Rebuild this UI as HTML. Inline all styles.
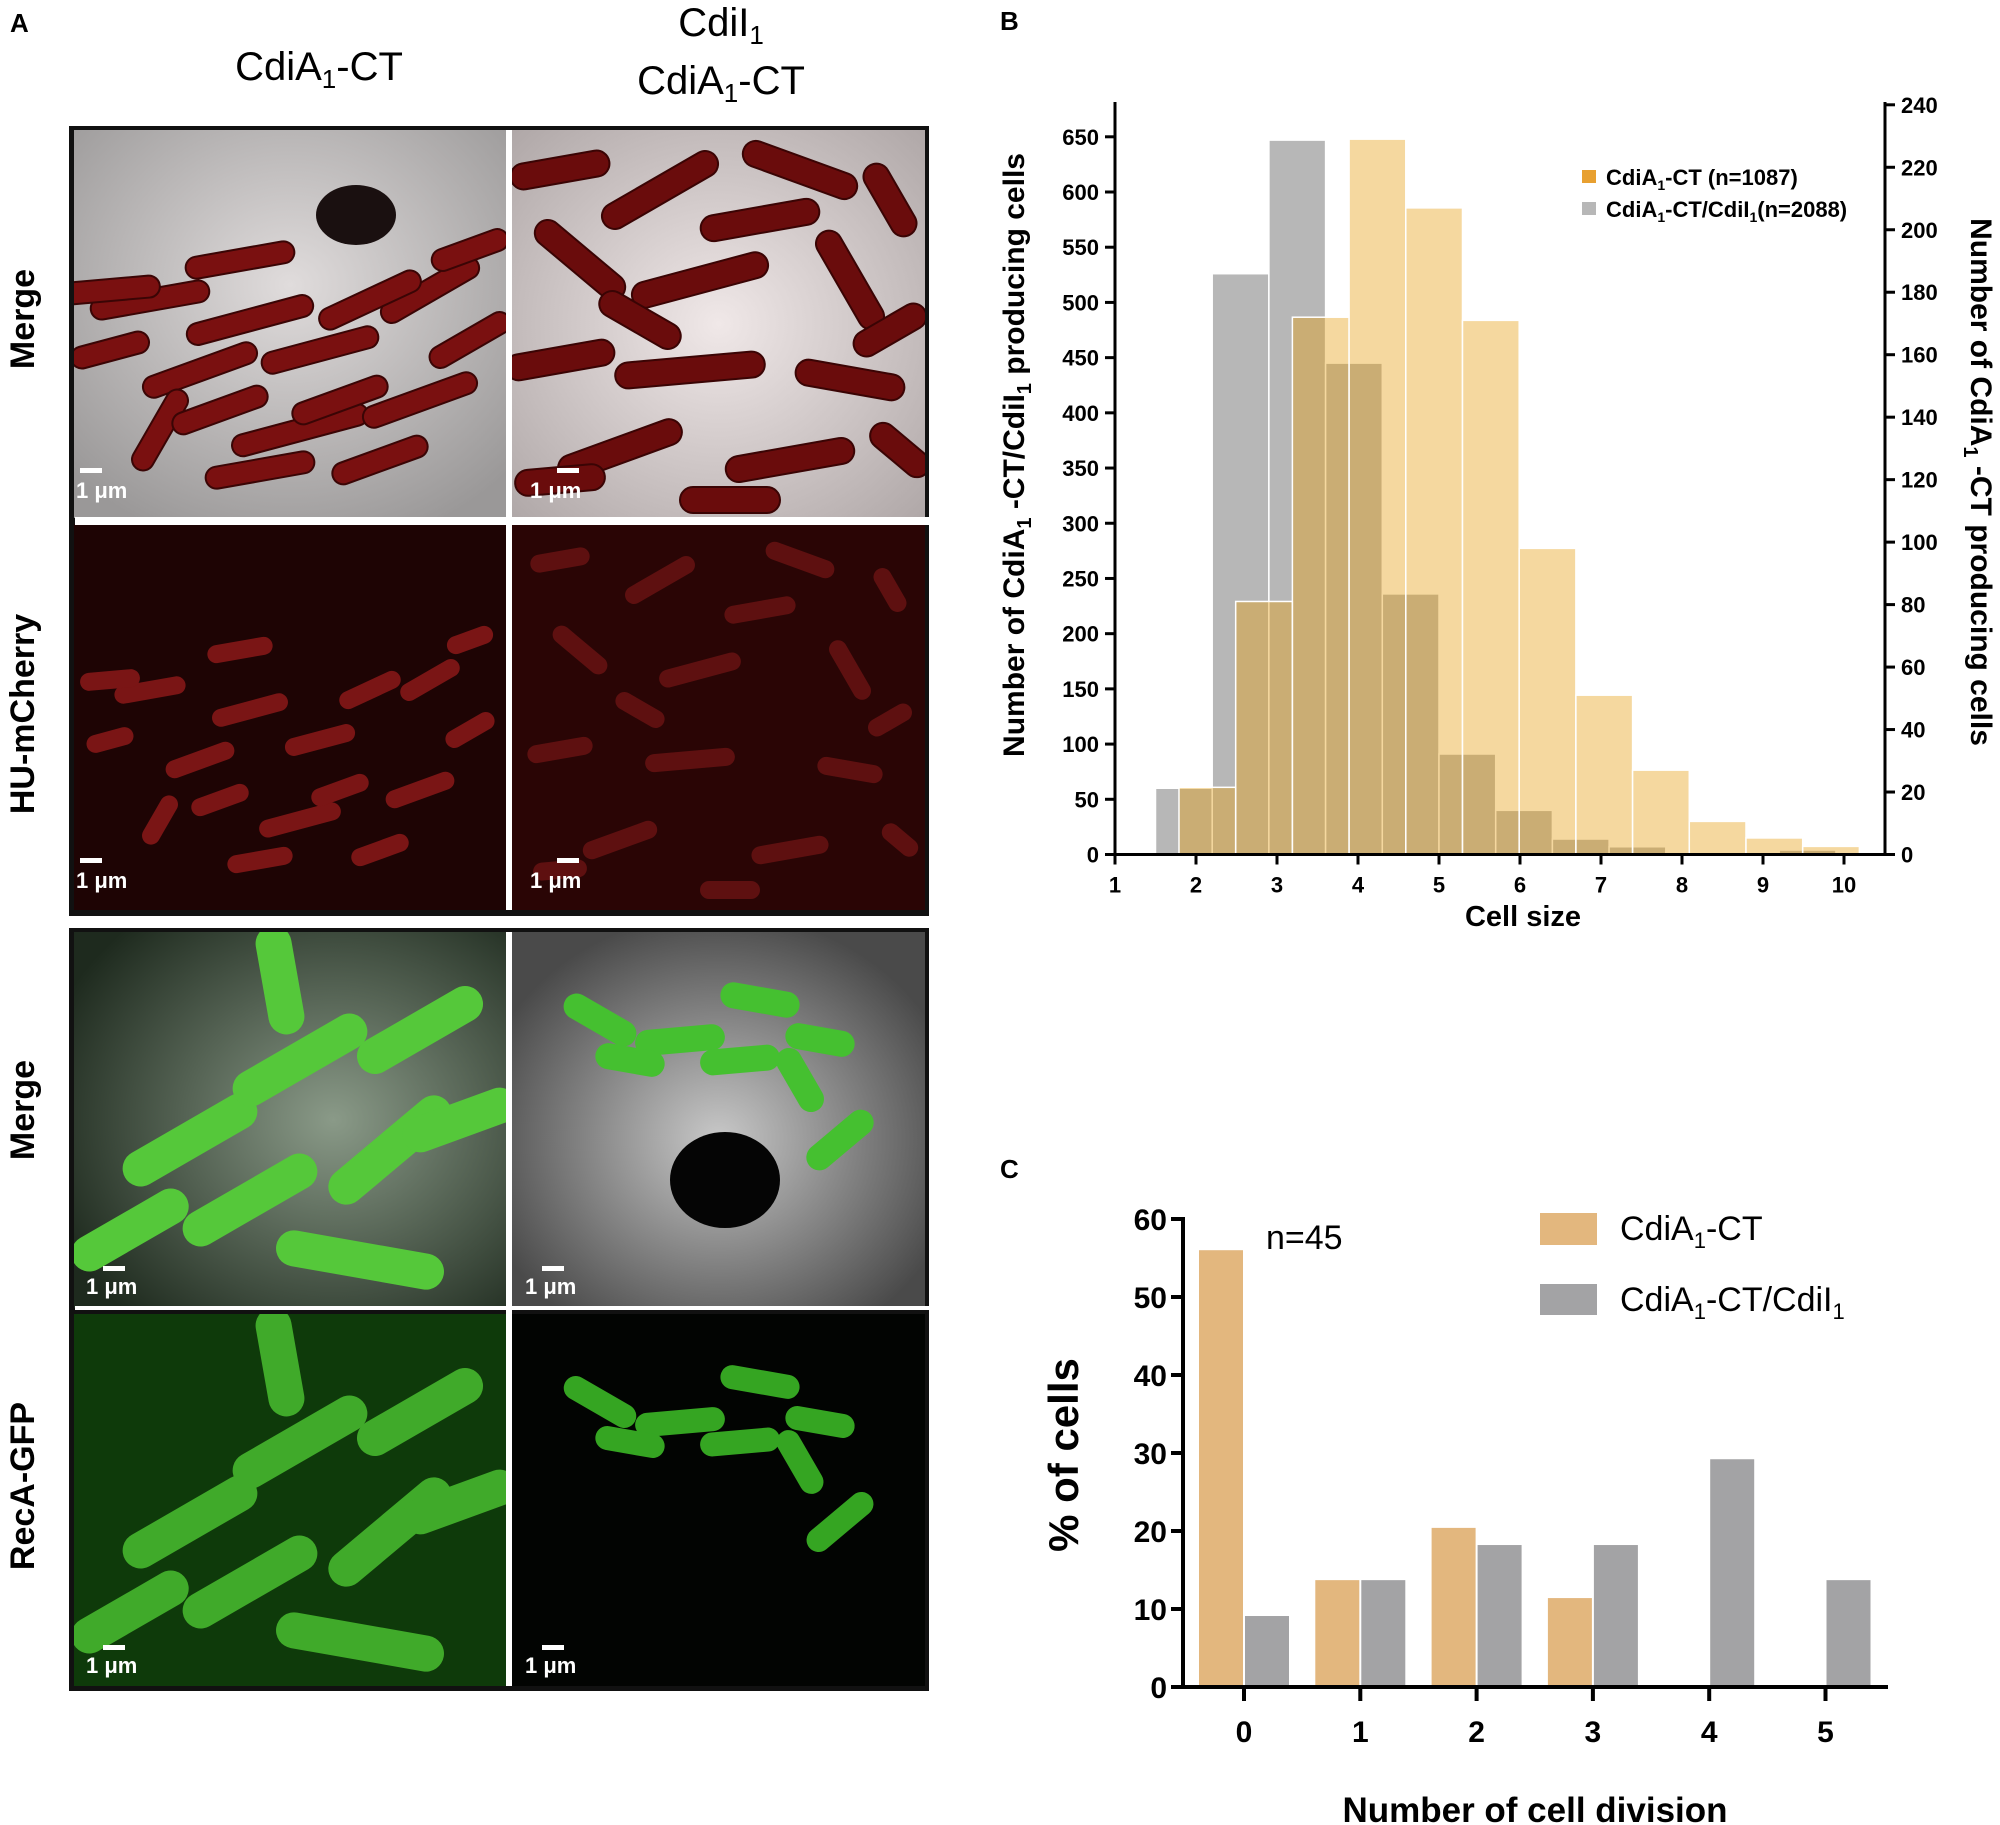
<!DOCTYPE html>
<html><head><meta charset="utf-8"><style>
html,body{margin:0;padding:0;background:#fff}
svg{display:block}
text{font-family:"Liberation Sans",Arial,sans-serif}
</style></head><body>
<svg id="fig" width="2000" height="1825" viewBox="0 0 2000 1825" xmlns="http://www.w3.org/2000/svg">
<defs>
<radialGradient id="gTL" cx="0.5" cy="0.4" r="0.7"><stop offset="0" stop-color="#e0dcdc"/><stop offset="1" stop-color="#9a9898"/></radialGradient>
<radialGradient id="gTR" cx="0.5" cy="0.5" r="0.7"><stop offset="0" stop-color="#f0e8e8"/><stop offset="1" stop-color="#b0a8a8"/></radialGradient>
<radialGradient id="gGL" cx="0.6" cy="0.5" r="0.7"><stop offset="0" stop-color="#8a9a88"/><stop offset="1" stop-color="#1e2a1e"/></radialGradient>
<radialGradient id="gGR" cx="0.5" cy="0.55" r="0.6"><stop offset="0" stop-color="#c8c8c8"/><stop offset="1" stop-color="#4a4a4a"/></radialGradient>
<clipPath id="c0"><rect x="74" y="130" width="432" height="388"/></clipPath>
<clipPath id="c1"><rect x="512" y="130" width="413" height="388"/></clipPath>
<clipPath id="c2"><rect x="74" y="524" width="432" height="386"/></clipPath>
<clipPath id="c3"><rect x="512" y="524" width="413" height="386"/></clipPath>
<clipPath id="c4"><rect x="74" y="932" width="432" height="376"/></clipPath>
<clipPath id="c5"><rect x="512" y="932" width="413" height="376"/></clipPath>
<clipPath id="c6"><rect x="74" y="1314" width="432" height="372"/></clipPath>
<clipPath id="c7"><rect x="512" y="1314" width="413" height="372"/></clipPath>
</defs>

<g>
<text x="10" y="32" font-size="26" font-weight="bold">A</text>
<text x="319" y="80" font-size="40" text-anchor="middle">CdiA<tspan font-size="26" dy="8">1</tspan><tspan dy="-8">-CT</tspan></text>
<text x="721" y="36" font-size="40" text-anchor="middle">CdiI<tspan font-size="26" dy="8">1</tspan></text>
<text x="721" y="94" font-size="40" text-anchor="middle">CdiA<tspan font-size="26" dy="8">1</tspan><tspan dy="-8">-CT</tspan></text>
<text transform="translate(34,319) rotate(-90)" font-size="34" font-weight="bold" text-anchor="middle">Merge</text>
<text transform="translate(34,714) rotate(-90)" font-size="34" font-weight="bold" text-anchor="middle">HU-mCherry</text>
<text transform="translate(34,1110) rotate(-90)" font-size="34" font-weight="bold" text-anchor="middle">Merge</text>
<text transform="translate(34,1486) rotate(-90)" font-size="34" font-weight="bold" text-anchor="middle">RecA-GFP</text>

<rect x="69" y="126" width="860" height="790" fill="#111"/>
<rect x="74" y="130" width="432" height="388" fill="url(#gTL)"/>
<rect x="512" y="130" width="413" height="388" fill="url(#gTR)"/>
<rect x="74" y="524" width="432" height="386" fill="#1e0404"/>
<rect x="512" y="524" width="413" height="386" fill="#2a0505"/>
<rect x="69" y="928" width="860" height="763" fill="#111"/>
<rect x="74" y="932" width="432" height="376" fill="url(#gGL)"/>
<rect x="512" y="932" width="413" height="376" fill="url(#gGR)"/>
<ellipse cx="725" cy="1180" rx="55" ry="48" fill="#050505"/>
<ellipse cx="356" cy="215" rx="40" ry="30" fill="#1a1010"/>
<rect x="74" y="1314" width="432" height="372" fill="#0e3a0a"/>
<rect x="512" y="1314" width="413" height="372" fill="#020402"/>
<g id="cells"></g>
<g font-size="22" font-weight="bold" fill="#fff">
<rect x="80" y="468" width="22" height="5"/><rect x="557" y="468" width="22" height="5"/>
<rect x="80" y="858" width="22" height="5"/><rect x="557" y="858" width="22" height="5"/>
<rect x="103" y="1266" width="22" height="5"/><rect x="542" y="1266" width="22" height="5"/>
<rect x="103" y="1645" width="22" height="5"/><rect x="542" y="1645" width="22" height="5"/>
<text x="76" y="498">1 μm</text><text x="530" y="498">1 μm</text>
<text x="76" y="888">1 μm</text><text x="530" y="888">1 μm</text>
<text x="86" y="1294">1 μm</text><text x="525" y="1294">1 μm</text>
<text x="86" y="1673">1 μm</text><text x="525" y="1673">1 μm</text>
</g>
</g>

<g id="chartB">
<text x="1000" y="30" font-size="26" font-weight="bold">B</text>
</g>
<g id="chartC">
<text x="1000" y="1178" font-size="26" font-weight="bold">C</text>
</g>
</svg>
<script>
// ---- Chart B data ----
const grayBinStart = 1.5;
const orangeBinStart = 1.79;
const binWidth = 0.7;
const grayCounts = [60, 526, 647, 445, 236, 91, 40, 14, 7, 2, 1, 4];
const orangeCounts = [21.5, 81, 172, 229, 207, 171, 98, 51, 27, 10.6, 5.3, 2.6];
const xTicksB = [1,2,3,4,5,6,7,8,9,10];
const leftTicksB = [0,50,100,150,200,250,300,350,400,450,500,550,600,650];
const rightTicksB = [0,20,40,60,80,100,120,140,160,180,200,220,240];
// ---- Chart C data ----
const categoriesC = [0,1,2,3,4,5];
const orangeC = [56, 13.7, 20.4, 11.4, 0, 0];
const grayC = [9.1, 13.7, 18.2, 18.2, 29.2, 13.7];
const yTicksC = [0,10,20,30,40,50,60];

const NS = "http://www.w3.org/2000/svg";
function mk(parent, tag, attrs, txt){
  const e = document.createElementNS(NS, tag);
  for (const k in attrs) e.setAttribute(k, attrs[k]);
  if (txt !== undefined) e.textContent = txt;
  parent.appendChild(e); return e;
}

// microscopy cells (decorative)
(function(){
  const g = document.getElementById('cells');
  const groups = [];
  for (let i=0;i<8;i++){ groups.push(mk(g,'g',{'clip-path':`url(#c${i})`})); }
  const base = [
   [150,300,120,-10],[250,320,130,-15],[200,370,120,-20],[320,350,120,-15],[160,430,90,-60],[300,430,140,-15],
   [430,290,110,-30],[420,400,120,-20],[110,290,100,-5],[240,260,110,-10],[370,300,110,-25],[260,470,110,-10],
   [380,460,100,-20],[470,340,90,-30],[220,410,100,-20],[340,400,100,-20],[470,250,80,-20],[110,350,80,-15]
  ];
  const dense = [
   [560,170,100,-10],[660,190,130,-30],[800,170,120,20],[890,200,80,60],[580,260,110,40],[700,280,140,-15],[850,280,110,60],
   [560,360,110,-10],[690,370,150,-5],[850,380,110,10],[620,450,130,-20],[790,460,130,-10],[900,450,70,40],[760,220,120,-10],
   [640,320,90,30],[890,330,80,-30],[560,480,90,-5],[730,500,100,0]
  ];
  base.forEach(s=>{ const r = mk(groups[0],'rect',{x:s[0]-s[2]/2,y:s[1]-11,width:s[2],height:22,rx:11,fill:'#7a1010',stroke:'#3a0505','stroke-width':2,transform:`rotate(${s[3]} ${s[0]} ${s[1]})`});
      });
  dense.forEach(s=>{ const r = mk(groups[1],'rect',{x:s[0]-s[2]/2,y:s[1]-13,width:s[2],height:26,rx:13,fill:'#6a0c0c',stroke:'#3a0404','stroke-width':2,transform:`rotate(${s[3]} ${s[0]} ${s[1]})`});
      });
  base.forEach(s=>{ const r = mk(groups[2],'rect',{x:s[0]-s[2]*0.3,y:s[1]+390-9,width:s[2]*0.6,height:18,rx:9,fill:'#7a1515',transform:`rotate(${s[3]} ${s[0]} ${s[1]+390})`});
      });
  dense.forEach(s=>{ const r = mk(groups[3],'rect',{x:s[0]-s[2]*0.3,y:s[1]+390-9,width:s[2]*0.6,height:18,rx:9,fill:'#5e1010',transform:`rotate(${s[3]} ${s[0]} ${s[1]+390})`});
      });
  const gl = [[190,1140,150,-30],[300,1060,150,-30],[250,1200,150,-30],[390,1150,150,-40],[420,1030,140,-30],[280,980,110,80],[360,1260,170,10],[130,1230,130,-30],[460,1120,120,-20]];
  const gr = [[600,1020,80,30],[680,1040,90,-5],[760,1000,80,10],[800,1080,70,60],[840,1140,80,-40],[630,1060,70,10],[740,1060,80,-5],[820,1040,70,10]];
  [[4,0,'#55c83a',36],[6,382,'#40aa2a',36]].forEach(p=>{ gl.forEach(s=>{ const r = mk(groups[p[0]],'rect',{x:s[0]-s[2]/2,y:s[1]+p[1]-p[3]/2,width:s[2],height:p[3],rx:p[3]/2,fill:p[2],transform:`rotate(${s[3]} ${s[0]} ${s[1]+p[1]})`});
      }); });
  [[5,0,'#45c030',26],[7,382,'#35a522',24]].forEach(p=>{ gr.forEach(s=>{ const r = mk(groups[p[0]],'rect',{x:s[0]-s[2]/2,y:s[1]+p[1]-p[3]/2,width:s[2],height:p[3],rx:p[3]/2,fill:p[2],transform:`rotate(${s[3]} ${s[0]} ${s[1]+p[1]})`});
      }); });
  [[75,517,855,8],[506,130,6,780],[75,1306,855,4],[506,932,6,754]].forEach(d=>{
    const r = mk(g,'rect',{x:d[0],y:d[1],width:d[2],height:d[3],fill:'#fff'});
    
    
  });
})();

// ---- Chart B ----
(function(){
  const g = document.getElementById('chartB');
  const x0 = 1115, y0 = 854.5;
  const xB = v => x0 + (v-1)*81;
  const yL = v => y0 - v*(854.5-136.8)/650;
  const yR = v => y0 - v*(854.5-104.8)/240;
  grayCounts.forEach((c,i)=>{
    const xa = xB(grayBinStart + i*binWidth), xb = xB(grayBinStart+(i+1)*binWidth);
    const r = mk(g,'rect',{x:xa,y:yL(c),width:xb-xa,height:y0-yL(c),fill:'#b7b7b7',stroke:'#fff','stroke-width':1.5});
    
    
  });
  orangeCounts.forEach((c,i)=>{
    const xa = xB(orangeBinStart + i*binWidth), xb = xB(orangeBinStart+(i+1)*binWidth);
    const r = mk(g,'rect',{x:xa,y:yR(c),width:xb-xa,height:y0-yR(c),fill:'rgb(229,157,14)','fill-opacity':0.4,stroke:'#fff','stroke-width':1.5});
    
    
  });
  let a = mk(g,'path',{d:`M${x0} 102 V${y0} H1885 M1885 102 V${y0}`,stroke:'#000','stroke-width':3,fill:'none'});
  
  
  leftTicksB.forEach(t=>{
    const y=yL(t);
    mk(g,'line',{x1:x0-10,x2:x0,y1:y,y2:y,stroke:'#000','stroke-width':3});
    const tx = mk(g,'text',{x:x0-16,y:y+8,'font-size':22,'font-weight':'bold','text-anchor':'end'},t);
    
    
  });
  rightTicksB.forEach(t=>{
    const y=yR(t);
    mk(g,'line',{x1:1885,x2:1895,y1:y,y2:y,stroke:'#000','stroke-width':3});
    const tx = mk(g,'text',{x:1901,y:y+8,'font-size':22,'font-weight':'bold'},t);
    
    
  });
  xTicksB.forEach(t=>{
    const x=xB(t);
    mk(g,'line',{x1:x,x2:x,y1:y0,y2:y0+10,stroke:'#000','stroke-width':3});
    const tx = mk(g,'text',{x:x,y:y0+38,'font-size':22,'font-weight':'bold','text-anchor':'middle'},t);
    
    
  });
  let t = mk(g,'text',{x:1523,y:926,'font-size':29,'font-weight':'bold','text-anchor':'middle'},'Cell size');
  
  
  t = mk(g,'text',{transform:'translate(1024,455) rotate(-90)','font-size':30,'font-weight':'bold','text-anchor':'middle'});
  t.innerHTML = 'Number of CdiA<tspan font-size="20" dy="7">1</tspan><tspan dy="-7"> -CT/CdiI</tspan><tspan font-size="20" dy="7">1</tspan><tspan dy="-7">  producing cells</tspan>';
  
  
  t = mk(g,'text',{transform:'translate(1971,482) rotate(90)','font-size':30,'font-weight':'bold','text-anchor':'middle'});
  t.innerHTML = 'Number of CdiA<tspan font-size="20" dy="7">1</tspan><tspan dy="-7"> -CT producing cells</tspan>';
  
  
  let r = mk(g,'rect',{x:1582,y:170,width:14,height:13,fill:'#e8a030'});
  
  
  t = mk(g,'text',{x:1606,y:185,'font-size':22,'font-weight':'bold'});
  t.innerHTML = 'CdiA<tspan font-size="14" dy="5">1</tspan><tspan dy="-5">-CT (n=1087)</tspan>';
  
  
  r = mk(g,'rect',{x:1582,y:202,width:14,height:13,fill:'#b7b7b7'});
  
  
  t = mk(g,'text',{x:1606,y:217,'font-size':22,'font-weight':'bold'});
  t.innerHTML = 'CdiA<tspan font-size="14" dy="5">1</tspan><tspan dy="-5">-CT/CdiI</tspan><tspan font-size="14" dy="5">1</tspan><tspan dy="-5">(n=2088)</tspan>';
  
  
})();

// ---- Chart C ----
(function(){
  const g = document.getElementById('chartC');
  const x0 = 1183, y0 = 1687;
  const xC = i => 1244 + i*116.3;
  const yC = v => y0 - v*7.8;
  const bw = 44;
  categoriesC.forEach((c,i)=>{
    const r1 = mk(g,'rect',{x:xC(i)-bw-1,y:yC(orangeC[i]),width:bw,height:y0-yC(orangeC[i]),fill:'#e3b77e'});
    
    
    const r2 = mk(g,'rect',{x:xC(i)+1,y:yC(grayC[i]),width:bw,height:y0-yC(grayC[i]),fill:'#a3a3a5'});
    
    
    mk(g,'line',{x1:xC(i),x2:xC(i),y1:y0,y2:y0+14,stroke:'#000','stroke-width':4});
    const t = mk(g,'text',{x:xC(i),y:y0+55,'font-size':30,'font-weight':'bold','text-anchor':'middle'},c);
    
    
  });
  const ax = mk(g,'path',{d:`M${x0} ${yC(60)-2} V${y0} H1888`,stroke:'#000','stroke-width':4,fill:'none'});
  
  
  yTicksC.forEach(v=>{
    mk(g,'line',{x1:x0-12,x2:x0,y1:yC(v),y2:yC(v),stroke:'#000','stroke-width':4});
    const t = mk(g,'text',{x:x0-16,y:yC(v)+11,'font-size':30,'font-weight':'bold','text-anchor':'end'},v);
    
    
  });
  let t = mk(g,'text',{x:1535,y:1822,'font-size':35,'font-weight':'bold','text-anchor':'middle'},'Number of cell division');
  
  
  t = mk(g,'text',{transform:'translate(1078,1455) rotate(-90)','font-size':42,'font-weight':'bold','text-anchor':'middle'},'% of cells');
  
  
  t = mk(g,'text',{x:1266,y:1249,'font-size':34},'n=45');
  
  
  let r = mk(g,'rect',{x:1540,y:1213,width:57,height:32,fill:'#e3b77e'});
  
  
  t = mk(g,'text',{x:1620,y:1240,'font-size':34});
  t.innerHTML = 'CdiA<tspan font-size="22" dy="8">1</tspan><tspan dy="-8">-CT</tspan>';
  
  
  r = mk(g,'rect',{x:1540,y:1284,width:57,height:31,fill:'#a3a3a5'});
  
  
  t = mk(g,'text',{x:1620,y:1311,'font-size':34});
  t.innerHTML = 'CdiA<tspan font-size="22" dy="8">1</tspan><tspan dy="-8">-CT/CdiI</tspan><tspan font-size="22" dy="8">1</tspan>';
  
  
})();
</script>
</body></html>
